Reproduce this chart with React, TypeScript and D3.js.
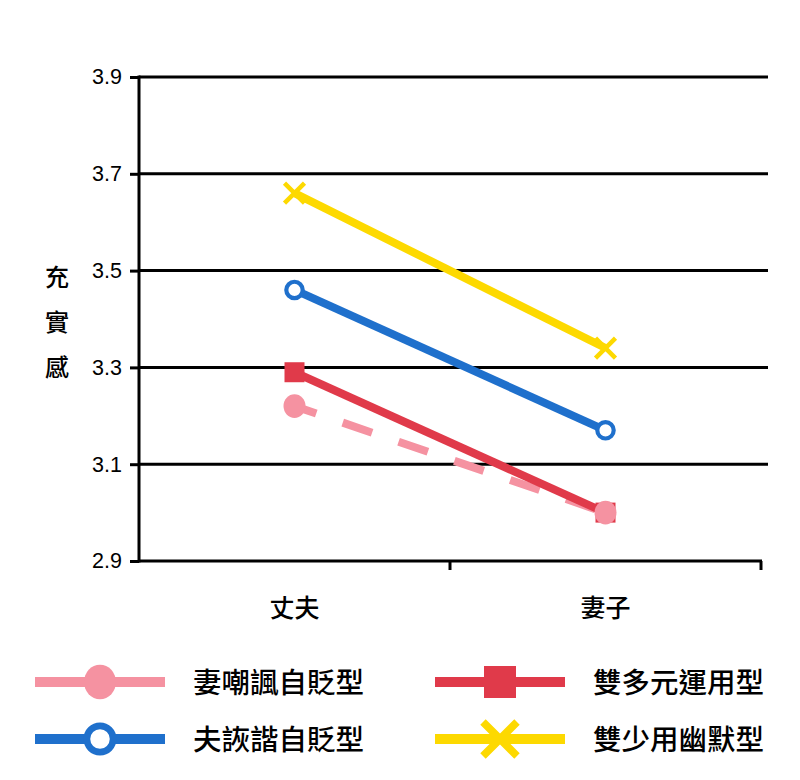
import { useRef, useEffect } from "react";
import * as d3 from "d3";

const categories = ["丈夫", "妻子"];
const yTicks = [2.9, 3.1, 3.3, 3.5, 3.7, 3.9];

const seriesNames = ["雙少用幽默型", "夫詼諧自貶型", "雙多元運用型", "妻嘲諷自貶型"];
const yellowValues = [3.66, 3.34];
const blueValues = [3.46, 3.17];
const redValues = [3.29, 3.0];
const pinkValues = [3.22, 3.0];

const W = 800;
const H = 780;

export default function App() {
    const svgRef = useRef<SVGSVGElement | null>(null);

    useEffect(() => {
        if (!svgRef.current) return;
        const svg = d3.select(svgRef.current);
        svg.selectAll("*").remove();

        const margin = { top: 77, left: 139, bottom: 561 };
        const font = "'Liberation Sans', Arial, sans-serif";
        const cjk = "'Noto Sans CJK TC', sans-serif";

        const x = d3.scaleBand().domain(categories).range([margin.left, 761]);
        const y = d3.scaleLinear().domain([2.9, 3.9]).range([margin.bottom, margin.top]);
        const cx = (c: string) => x(c)! + x.bandwidth() / 2;

        // gridlines
        svg.append("g")
            .selectAll("line")
            .data(yTicks.slice(1))
            .enter()
            .append("line")
            .attr("x1", margin.left)
            .attr("x2", 768)
            .attr("y1", d => y(d))
            .attr("y2", d => y(d))
            .attr("stroke", "#000")
            .attr("stroke-width", 3);

        // Y axis
        const yAxis = svg.append("g")
            .attr("transform", `translate(${margin.left},0)`)
            .call(d3.axisLeft(y).tickValues(yTicks).tickSize(9).tickPadding(8).tickFormat(d3.format(".1f")));
        yAxis.attr("font-size", null).attr("font-family", null);
        yAxis.select(".domain").attr("stroke-width", 3).attr("d", `M0,${y(3.9) - 1.5}V${margin.bottom + 1.5}`);
        yAxis.selectAll(".tick line").attr("stroke-width", 3);
        yAxis.selectAll(".tick text")
            .style("font-family", font)
            .style("font-size", "21.5px")
            .attr("fill", "#000");

        // X axis
        const xAxis = svg.append("g")
            .attr("transform", `translate(0,${margin.bottom})`)
            .call(d3.axisBottom(x).tickSize(0).tickPadding(38));
        xAxis.select(".domain").attr("stroke-width", 3).attr("d", `M${margin.left},0H762`);
        xAxis.selectAll("text").attr("font-family", cjk).attr("font-size", 25).attr("font-weight", 500).attr("fill", "#000");
        svg.append("g")
            .selectAll("line")
            .data(categories)
            .enter()
            .append("line")
            .attr("x1", d => x(d)! + x.bandwidth())
            .attr("x2", d => x(d)! + x.bandwidth())
            .attr("y1", margin.bottom)
            .attr("y2", margin.bottom + 9)
            .attr("stroke", "#000")
            .attr("stroke-width", 3);

        // Y label
        svg.append("g")
            .selectAll("text")
            .data(["充", "實", "感"])
            .enter()
            .append("text")
            .attr("x", 57)
            .attr("y", (_d, i) => 286 + i * 45)
            .attr("text-anchor", "middle")
            .attr("font-family", cjk)
            .attr("font-size", 24)
            .attr("font-weight", 500)
            .text(d => d);

        const line = d3.line<number>().x((_d, i) => cx(categories[i])).y(d => y(d));

        const yellow = { name: seriesNames[0], values: yellowValues, color: "#FDD900", marker: "x" };
        const blue = { name: seriesNames[1], values: blueValues, color: "#1F70CC", marker: "ring" };
        const red = { name: seriesNames[2], values: redValues, color: "#E03A4A", marker: "square" };
        const pink = { name: seriesNames[3], values: pinkValues, color: "#F592A1", marker: "dot" };

        const drawMarker = (g: d3.Selection<SVGGElement, unknown, null, undefined>, kind: string, color: string, px: number, py: number, s: number) => {
            if (kind === "dot") {
                g.append("ellipse").attr("cx", px).attr("cy", py).attr("rx", s).attr("ry", s * 1.08).attr("fill", color);
            } else if (kind === "ring") {
                g.append("circle").attr("cx", px).attr("cy", py).attr("r", s * 0.82).attr("fill", "#fff")
                    .attr("stroke", color).attr("stroke-width", s * 0.42);
            } else if (kind === "square") {
                g.append("rect").attr("x", px - s).attr("y", py - s).attr("width", 2 * s).attr("height", 2 * s).attr("fill", color);
            } else {
                const a = s;
                g.append("path")
                    .attr("d", `M${px - a},${py - a}L${px + a},${py + a}M${px - a},${py + a}L${px + a},${py - a}`)
                    .attr("stroke", color).attr("stroke-width", s * 0.45).attr("fill", "none");
            }
        };

        // lines first, then markers
        const lines = svg.append("g");
        [yellow, blue, pink, red].forEach(s => {
            lines.append("path")
                .attr("d", line(s.values)!)
                .attr("fill", "none")
                .attr("stroke", s.color)
                .attr("stroke-width", 8)
                .attr("stroke-dasharray", s.marker === "dot" ? "31 28" : null)
                .attr("stroke-dashoffset", s.marker === "dot" ? 8 : null);
        });
        const markers = svg.append("g");
        [yellow, blue, red, pink].forEach(s => {
            s.values.forEach((v, i) => {
                const size = s.marker === "dot" ? 11 : 10;
                drawMarker(markers, s.marker, s.color, cx(categories[i]), y(v), size);
            });
        });

        // legend
        const legendOrder = [pink, red, blue, yellow];
        legendOrder.forEach((s, i) => {
            const col = i % 2;
            const row = Math.floor(i / 2);
            const lx = 35 + col * 400;
            const ly = 682 + row * 57;
            const g = svg.append("g");
            g.append("line").attr("x1", lx).attr("x2", lx + 130).attr("y1", ly).attr("y2", ly)
                .attr("stroke", s.color).attr("stroke-width", 10);
            drawMarker(g, s.marker, s.color, lx + 65, ly, s.marker === "x" ? 17 : 16);
            g.append("text")
                .attr("x", lx + 158)
                .attr("y", ly + 11)
                .attr("font-family", cjk)
                .attr("font-size", 28.5)
                .attr("font-weight", 500)
                .text(s.name);
        });
    }, []);

    return (
        <div style={{ position: "absolute", left: 0, top: 0 }}>
            <svg ref={svgRef} width={W} height={H} style={{ display: "block", background: "#fff" }} />
        </div>
    );
}
